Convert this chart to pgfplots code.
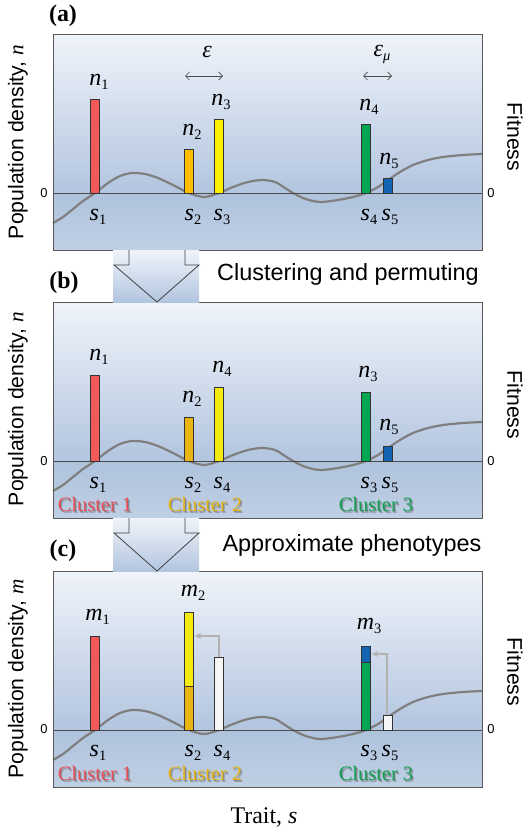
\documentclass[border=0pt]{standalone}
\usepackage{pgfplots}
\pgfplotsset{compat=1.18}
\usepackage{fontspec}
\setmainfont{Liberation Serif}
\setsansfont{Liberation Sans}
\usetikzlibrary{arrows.meta}

\definecolor{bgtop}{HTML}{F0F4FA}
\definecolor{bgmid}{HTML}{B2C5DF}
\definecolor{bglow}{HTML}{AFC3DD}
\definecolor{bgbot}{HTML}{BFCFE4}
\definecolor{fitgray}{HTML}{7F7F7F}
\definecolor{cred}{HTML}{F25A5A}
\definecolor{corange}{HTML}{FFBF00}
\definecolor{corange2}{HTML}{EBB415}
\definecolor{cyellow}{HTML}{FFF000}
\definecolor{cyellow2}{HTML}{F5EB10}
\definecolor{cgreen}{HTML}{00A651}
\definecolor{cblue}{HTML}{1464B4}
\definecolor{cwhite}{HTML}{F6F6F6}
\definecolor{lred}{HTML}{E8505A}
\definecolor{lgold}{HTML}{E6B412}
\definecolor{lgreen}{HTML}{12A050}

\newcommand{\lf}{\fontsize{24}{26}\selectfont}
\newcommand{\sub}[2]{\textit{#1}\raisebox{-4bp}{\fontsize{14.5}{15}\selectfont #2}}
\newcommand{\mybar}[3]{\addplot[ybar, bar width=8.5, bar shift=0pt, fill=#3, draw=black!80, line width=0.8bp] coordinates {(#1,#2)};}
\newcommand{\fitness}{%
  \path[top color=bgtop, bottom color=bgmid] (axis cs:0,0) rectangle (axis cs:429,159);
  \path[top color=bglow, bottom color=bgbot] (axis cs:0,-57) rectangle (axis cs:429,0);
  \addplot[smooth, color=fitgray, line width=2.2bp] coordinates {
    (0,-30) (10,-24) (20,-16) (30,-8) (42,0) (55,10) (67,17) (79,20) (92,19)
    (105,15) (120,8) (136,0) (151,-4) (166,0) (180,6) (195,11) (209,13)
    (222,11) (232,5) (240,0) (250,-5) (260,-8) (269,-9) (285,-7) (300,-4)
    (313,0) (325,6) (335,13) (347,21) (360,28) (375,33) (390,36) (410,38) (429,39)};
  \addplot[black!70, line width=0.8bp] coordinates {(0,0) (429,0)};}
\newcommand{\cluster}[3]{%
  \node[text=black!70, opacity=0.35, font=\fontsize{20.5}{22}\selectfont] at (axis cs:#1+1.6,-45.6) {Cluster #2};
  \node[text=black!70, opacity=0.35, font=\fontsize{20.5}{22}\selectfont] at (axis cs:#1+0.8,-44.8) {Cluster #2};
  \node[text=#3, font=\fontsize{20.5}{22}\selectfont] at (axis cs:#1,-44) {Cluster #2};}

\pgfplotsset{panel/.style={anchor=north west, width=429bp, height=216bp,
  scale only axis, xmin=0, xmax=429, ymin=-57, ymax=159,
  xtick=\empty, ytick=\empty, axis on top, clip=false,
  axis line style={draw=black!65, line width=0.9bp}}}

\begin{document}
\begin{tikzpicture}[x=1bp, y=1bp]
\useasboundingbox (0,0) rectangle (531,-830);

% ---------- (a)
\begin{axis}[panel, at={(53,-34)}]
\fitness
\mybar{42}{94}{cred}
\mybar{136}{44}{corange}
\mybar{166}{74}{cyellow}
\mybar{313}{69}{cgreen}
\mybar{335}{15}{cblue}
\begin{scope}[font=\lf]
\node at (axis cs:46,111) {\sub{n}{1}};
\node at (axis cs:139,61) {\sub{n}{2}};
\node at (axis cs:168,91) {\sub{n}{3}};
\node at (axis cs:316,86) {\sub{n}{4}};
\node at (axis cs:336,32) {\sub{n}{5}};
\node at (axis cs:45,-24) {\sub{s}{1}};
\node at (axis cs:140,-24) {\sub{s}{2}};
\node at (axis cs:169,-24) {\sub{s}{3}};
\node at (axis cs:316,-24) {\sub{s}{4}};
\node at (axis cs:337,-24) {\sub{s}{5}};
\node at (axis cs:154,141) {\textit{ε}};
\node at (axis cs:329,139) {\sub{ε}{\textit{μ}}};
\end{scope}
\draw[black!70, line width=0.7bp, {Straight Barb[length=4bp]}-{Straight Barb[length=4bp]}] (axis cs:132,117) -- (axis cs:170,117);
\draw[black!70, line width=0.7bp, {Straight Barb[length=4bp]}-{Straight Barb[length=4bp]}] (axis cs:310,117) -- (axis cs:339,117);
\end{axis}

% ---------- (b)
\begin{axis}[panel, at={(53,-302)}]
\fitness
\mybar{42}{86}{cred}
\mybar{136}{44}{corange2}
\mybar{166}{74}{cyellow2}
\mybar{313}{69}{cgreen}
\mybar{335}{15}{cblue}
\begin{scope}[font=\lf]
\node at (axis cs:46,104) {\sub{n}{1}};
\node at (axis cs:139,62) {\sub{n}{2}};
\node at (axis cs:169,92) {\sub{n}{4}};
\node at (axis cs:315,87) {\sub{n}{3}};
\node at (axis cs:336,34) {\sub{n}{5}};
\node at (axis cs:45,-24) {\sub{s}{1}};
\node at (axis cs:140,-24) {\sub{s}{2}};
\node at (axis cs:169,-24) {\sub{s}{4}};
\node at (axis cs:316,-24) {\sub{s}{3}};
\node at (axis cs:337,-24) {\sub{s}{5}};
\end{scope}
\cluster{42}{1}{lred}
\cluster{152}{2}{lgold}
\cluster{323}{3}{lgreen}
\end{axis}

% ---------- (c)
\begin{axis}[panel, at={(53,-571)}]
\fitness
\mybar{42}{94}{cred}
\mybar{136}{118}{cyellow2}
\mybar{136}{44}{corange2}
\mybar{166}{73}{cwhite}
\mybar{313}{84}{cblue}
\mybar{313}{68}{cgreen}
\mybar{335}{15}{cwhite}
\draw[black!30, line width=1.2bp, -{Stealth[length=7bp, width=6bp]}] (axis cs:166,73) -- (axis cs:166,94) -- (axis cs:141.5,94);
\draw[black!30, line width=1.2bp, -{Stealth[length=7bp, width=6bp]}] (axis cs:334,15) -- (axis cs:334,76) -- (axis cs:318.5,76);
\begin{scope}[font=\lf]
\node at (axis cs:44.5,113) {\sub{m}{1}};
\node at (axis cs:140,137) {\sub{m}{2}};
\node at (axis cs:316,104) {\sub{m}{3}};
\node at (axis cs:45,-23) {\sub{s}{1}};
\node at (axis cs:140,-23) {\sub{s}{2}};
\node at (axis cs:169,-23) {\sub{s}{4}};
\node at (axis cs:316,-23) {\sub{s}{3}};
\node at (axis cs:337,-23) {\sub{s}{5}};
\end{scope}
\cluster{42}{1}{lred}
\cluster{152}{2}{lgold}
\cluster{323}{3}{lgreen}
\end{axis}

% ---------- block arrows between panels
\foreach \t/\b in {250/302, 518/571}{
  \path[top color=bgtop, bottom color=bgmid] (113,-\t) rectangle (199,-\b);
  \draw[black!75, line width=0.8bp] (129,-\t) -- (129,-\t-15) -- (114,-\t-15)
    -- (157,-\b) -- (199,-\t-15) -- (185,-\t-15) -- (185,-\t);
}

% ---------- texts outside the axes
\begin{scope}[font=\fontsize{24}{26}\selectfont\bfseries]
\node at (63,-16) {(a)};
\node at (64,-283) {(b)};
\node at (63,-551) {(c)};
\end{scope}
\begin{scope}[font=\sffamily\fontsize{23.5}{26}\selectfont]
\node at (348,-274) {Clustering and permuting};
\node at (352,-545) {Approximate phenotypes};
\end{scope}
\begin{scope}[font=\sffamily\fontsize{21.3}{24}\selectfont]
\node[rotate=90] at (18,-142) {Population density, {\rmfamily\itshape n}};
\node[rotate=90] at (18,-409) {Population density, {\rmfamily\itshape n}};
\node[rotate=90] at (18,-679) {Population density, {\rmfamily\itshape m}};
\node[rotate=-90] at (515,-137) {Fitness};
\node[rotate=-90] at (515,-405) {Fitness};
\node[rotate=-90] at (515,-672) {Fitness};
\end{scope}
\begin{scope}[font=\sffamily\fontsize{13}{14}\selectfont]
\foreach \z in {193,461,729}{
  \node at (44,-\z) {0};
  \node at (491,-\z) {0};
}
\end{scope}
\node[font=\fontsize{24}{26}\selectfont] at (264,-817) {Trait, \textit{s}};
\end{tikzpicture}
\end{document}
